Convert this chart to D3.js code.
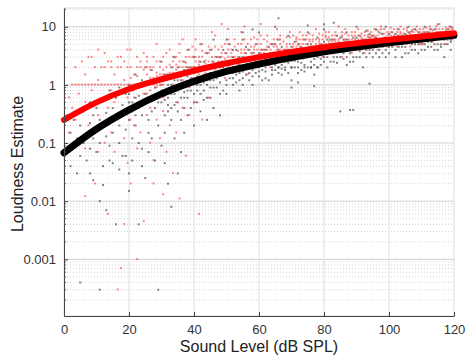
<!DOCTYPE html>
<html>
<head>
<meta charset="utf-8">
<script src="https://cdn.jsdelivr.net/npm/d3@7"></script>
<style>
  body { margin: 0; background: #fff; }
  svg { font-family: "Liberation Sans", Arial, sans-serif; }
</style>
</head>
<body>
<div id="chart"></div>
<script>
// fitted curves (dB SPL -> loudness estimate)
var curveX = [0, 10, 20, 30, 40, 50, 60, 70, 80, 90, 100, 110, 120];
var blackCurve = [0.068, 0.174, 0.372, 0.7, 1.15, 1.7, 2.28, 2.94, 3.7, 4.48, 5.31, 6.14, 7.1];
var redCurve = [0.25, 0.5, 0.85, 1.25, 1.75, 2.35, 3.0, 3.7, 4.45, 5.2, 5.95, 6.8, 7.7];

var xTicks = [0, 20, 40, 60, 80, 100, 120];
var yTicks = [0.001, 0.01, 0.1, 1, 10];
var yTickLabels = ["0.001", "0.01", "0.1", "1", "10"];

// individual estimates (black listeners)
var blackPts = [[1,0.08],[2,0.15],[2,0.04],[3,0.25],[3,0.09],[4,0.12],[4,0.03],[5,0.2],[5,0.0004],[5,0.06],[6,0.35],[6,0.1],[7,0.15],[7,0.05],[8,0.5],[8,0.22],[8,0.08],[9,0.12],[9,0.3],[9,0.023],[10,0.18],[10,0.4],[10,0.07],[11,0.25],[11,0.01],[11,0.0003],[11,0.1],[12,0.55],[12,0.2],[12,0.019],[13,0.13],[13,0.33],[13,0.007],[14,0.8],[14,0.25],[14,0.09],[15,0.4],[15,0.15],[15,0.045],[16,0.6],[16,0.28],[16,0.004],[17,0.2],[17,0.9],[17,0.1],[18,0.45],[18,0.3],[18,0.06],[19,0.7],[19,0.17],[20,0.5],[20,1],[20,0.25],[20,0.03],[21,0.35],[21,0.8],[21,0.12],[22,0.6],[22,1.5],[22,0.2],[23,0.4],[23,0.004],[23,0.9],[24,0.3],[24,1.2],[24,0.08],[25,0.7],[25,0.5],[25,2],[26,0.25],[26,1],[26,0.15],[27,0.6],[27,1.8],[28,0.4],[28,0.9],[28,0.05],[29,1.3],[29,0.0003],[29,0.7],[30,0.5],[30,2.5],[30,1],[31,0.3],[31,0.8],[32,1.5],[32,0.6],[32,0.02],[33,1],[33,2],[33,0.4],[33,0.008],[34,0.7],[34,3],[35,1.2],[35,0.5],[35,2],[36,0.9],[36,1.6],[36,0.25],[37,1],[37,2.5],[37,0.6],[38,1.4],[38,0.8],[38,4],[39,2],[39,0.4],[40,1.2],[40,3],[40,0.7],[41,1.8],[41,0.5],[42,1],[42,2.5],[42,5],[43,1.5],[43,0.8],[44,2],[44,3.5],[44,1],[45,0.6],[45,1.6],[46,2.5],[46,1.2],[46,6],[47,2],[47,0.9],[48,3],[48,1.5],[48,0.3],[49,2],[49,4],[50,1.2],[50,2.5],[50,0.7],[51,1.8],[51,5],[52,3],[52,1],[52,2],[53,1.5],[53,4],[54,2.2],[54,0.8],[55,3],[55,1.3],[55,6],[56,2],[56,4.5],[57,1.6],[57,2.8],[58,1],[58,3.5],[59,2],[59,5],[60,2.5],[60,1.4],[60,8],[61,3],[61,1.8],[62,4],[62,2.2],[63,1.2],[63,3],[64,5],[64,2.5],[65,1.8],[65,3.5],[66,2],[66,6],[67,3],[67,1.5],[68,4],[68,2.5],[69,7],[69,3],[70,2],[70,4.5],[70,1.2],[71,3.5],[71,5.5],[72,2.5],[72,4],[73,1.8],[73,3],[74,6],[74,2.2],[75,4],[75,3],[75,8],[76,2.5],[76,5],[77,3.5],[77,1.5],[78,6.5],[78,4],[79,2.8],[79,5],[80,3],[80,4.5],[80,9],[81,2],[81,6],[82,3.5],[82,5],[83,4],[83,2.5],[84,7],[84,3],[85,5],[85,4],[85,0.35],[86,2.8],[86,6],[87,4.5],[87,8],[88,3.5],[88,5.5],[89,2.5],[89,6.5],[90,4],[90,5],[90,10],[91,3],[91,7],[92,4.5],[92,2],[93,6],[93,8.5],[94,3.5],[94,5],[95,7],[95,4],[96,5.5],[96,9],[97,3],[97,6],[98,4.5],[98,7.5],[99,5],[99,10],[100,6],[100,3.5],[101,8],[101,5],[102,4],[102,6.5],[103,9],[103,5.5],[104,3],[104,7],[105,6],[105,4.5],[106,8],[106,10],[107,5],[107,7],[108,4],[108,9],[109,6],[109,3.5],[110,7.5],[110,5],[111,10],[111,6],[112,4.5],[112,8],[113,7],[113,5.5],[114,9],[114,4],[115,6.5],[115,11],[116,5],[116,8],[117,7],[117,3],[118,9],[118,6],[119,4],[119,10],
[20,0.7],[21,0.5],[22,0.3],[23,0.65],[24,0.45],[25,1],[26,0.6],[27,0.35],[28,1.2],[29,0.5],[30,0.8],[31,1.5],[31,0.55],[32,1],[32,0.35],[33,0.7],[34,1.2],[34,0.45],[35,0.8],[35,1.6],[36,0.6],[36,1.2],[37,0.4],[37,1.8],[38,1],[38,0.6],[39,1.3],[39,0.8],[40,2],[40,0.5],[41,1],[41,1.4],[42,0.7],[42,1.8],[43,1.1],[43,2.5],[44,1.5],[44,0.6],[45,1.2],[45,2.2],[46,1.6],[46,0.9],[47,1.3],[47,3],[48,2],[48,1.1],[49,1.5],[49,0.8],[50,1.8],[50,3.5],[51,1.3],[51,2.5],[52,1.6],[52,4],[53,2],[53,1.1],[54,1.6],[54,3],[55,2],[55,1],[56,2.6],[56,1.5],[57,2],[57,4],[58,2.3],[58,1.4],[59,3],[59,1.6],[60,2],[60,3.5],[61,2.4],[61,1.2],[62,3],[62,1.7],[63,2.2],[63,4.5],[64,1.8],[64,3.3],[65,2.5],[65,5],[66,3],[66,1.6],[67,2.2],[67,4.5],[68,3],[68,1.8],[69,2.4],[69,4],[70,3],[70,2.6],[71,2],[71,4],[72,3.3],[72,1.6],[73,4.5],[73,2.4],[74,3],[74,4],[75,2],[75,5],[76,3.5],[76,2],[77,4.5],[77,2.8],[78,3],[78,2],[79,4],[79,3.5],[80,2.5],[80,5.5],[81,3.5],[81,4.5],[82,2.5],[82,4],[83,3],[83,6],[84,4],[84,5],[85,3],[85,6.5],[86,4],[86,5],[87,3],[87,6],[88,4.5],[88,2.5],[89,4],[89,5],[90,3],[90,6.5],[91,4.5],[91,5.5],[92,6],[92,3.5],[93,4],[93,5],[94,6.5],[94,7.5],[95,5],[95,3],[96,4.5],[96,6.5],[97,5],[97,8],[98,3.5],[98,6],[99,6.5],[99,4],[100,5],[100,7.5],[101,4.5],[101,6.5],[102,5.5],[102,7.5],[103,4.5],[103,7],[104,6],[104,5],[105,7.5],[105,3.5],[106,5.5],[106,6.5],[107,4],[107,8.5],[108,5.5],[108,7],[109,5],[109,8],[110,6.5],[110,4],[111,5],[111,8],[112,6],[112,7],[113,4.5],[113,9],[114,6],[114,7.5],[115,5],[115,8],[116,6.5],[116,4.5],[117,8],[117,6],[118,7],[118,5],[119,6],[119,8],
[62,2],[64,2],[66,2],[68,2],[70,2],[72,2],[74,2],[76,2],[78,2],[88,0.37],[89,0.37],[94,1.05],[77,0.95],[70,0.9],[72,1.1],
[30,1.3],[31,0.65],[32,0.45],[33,1.3],[34,0.9],[35,0.35],[36,1.4],[37,0.75],[38,2],[39,1],[40,1.6],[41,0.8],[42,1.3],[43,0.55],[44,1.2],[45,0.9],[46,2],[47,1.5],[48,0.7],[49,2.5],[50,1],[51,2.2],[52,1.3],[53,2.6],[54,1.2],[55,1.7],[56,3.5],[57,1.2],[58,1.8],[59,2.5],[60,1.7],[61,4],[62,1.3],[63,2.6],[64,1.5],[65,2.2],[66,4],[67,1.9],[68,3.3],[69,1.6],[70,3.5],[71,2.6],[72,5],[73,3.5],[74,1.7],[75,3.5],[76,4],[77,2.2],[78,3.5],[79,2.2],[80,4],[81,3],[82,6],[83,3.5],[84,2.4],[85,4.5],[86,3.5],[87,2.2],[88,4],[89,3],[90,5.5],[91,3.8],[92,5],[93,3],[94,4],[95,5.5],[96,3.5],[97,4],[98,5.5],[99,3],[100,4.5],[101,6],[102,3],[103,6],[104,4.5],[105,5.5],[106,3.5],[107,6],[108,5],[109,7],[110,5.5],[111,4],[112,5.5],[113,6.5],[114,5],[115,4],[116,7],[117,5],[118,8],[119,5.5],[120,7],
[45,4],[50,6],[55,8],[58,9],[65,10],[66,14],[83,11.7],[80,11],[75,10.5],
[14,0.05],[17,0.035],[19,0.06],[21,0.05],[23,0.1],[24,0.04],[26,0.07],[27,0.12],[29,0.2],[30,0.09],[31,0.15],[33,0.25],[34,0.12],[36,0.07],[37,0.15],[38,0.3],[40,0.2],[42,0.35],[44,0.25],[46,0.4],[25,0.025],[31,0.045],[35,0.03],[20,0.015],[12,0.04],[8,0.03]];

// individual estimates (red listeners)
var redPts = [[0.5,0.3],[1,0.6],[1,0.15],[2,1],[2,0.4],[3,0.25],[3,2],[4,0.7],[4,0.1],[5,1],[5,0.35],[6,0.012],[6,0.5],[6,1.5],[7,1],[7,0.2],[8,0.8],[8,3],[9,0.02],[9,0.45],[9,1],[10,1.2],[10,0.3],[10,0.07],[11,1],[11,2],[12,0.6],[12,1],[13,0.006],[13,0.4],[13,2.5],[14,1],[14,0.8],[14,0.15],[15,1.5],[15,1],[15,0.5],[16,0.0003],[16,2],[16,0.7],[17,0.0007],[17,1],[17,3],[18,0.004],[18,1.2],[18,0.35],[19,1],[19,2],[19,0.6],[20,0.02],[20,1],[20,4],[20,0.25],[21,1.5],[21,0.8],[22,0.001],[22,2],[22,1],[23,0.5],[23,2.5],[24,0.0045],[24,1],[24,1.8],[25,0.7],[25,3],[25,2],[26,1],[26,0.4],[27,2],[27,1.3],[28,5],[28,0.9],[29,2],[29,1.5],[30,1],[30,3],[30,0.6],[31,2],[31,1.2],[32,4],[32,0.8],[33,2],[33,1.6],[34,3],[34,0.5],[35,0.011],[35,2],[35,1],[36,2.5],[36,6],[37,1.5],[37,2],[38,3],[38,0.9],[39,2],[39,4.5],[40,1.8],[40,2.5],[40,1],[41,0.006],[41,3],[41,2],[42,5],[42,1.4],[43,2],[43,3.5],[44,2.5],[44,1.2],[45,4],[45,2],[46,3],[46,7],[47,2],[47,1.6],[48,3.5],[48,2.5],[49,5],[49,1.3],[50,3],[50,2],[50,6],[51,2.5],[51,4],[52,3],[52,1.8],[53,5],[53,2.2],[54,3.5],[54,8],[55,2.5],[55,4],[56,3],[56,1.5],[57,6],[57,3.5],[58,2.8],[58,4.5],[59,2],[59,5],[60,3.5],[60,7],[61,4],[61,2.5],[62,5.5],[62,3],[63,4],[63,2],[64,6],[64,3.5],[65,4.5],[65,9],[66,3],[66,5],[67,4],[67,2.5],[68,6.5],[68,3.5],[69,5],[69,4],[70,7],[70,3],[71,4.5],[71,5.5],[72,3.5],[72,8],[73,5],[73,2.8],[74,6],[74,4],[75,4.5],[75,7.5],[76,3.5],[76,5.5],[77,6],[77,9],[78,4],[78,5],[79,7],[79,3],[80,5],[80,6.5],[81,4],[81,8],[82,5.5],[82,3.5],[83,7],[83,4.5],[84,6],[84,10],[85,5],[85,3],[86,7.5],[86,4.5],[87,6],[87,5],[88,8],[88,3.5],[89,5.5],[89,7],[90,4.5],[90,9],[91,6],[91,5],[92,7],[92,3.5],[93,5.5],[93,8.5],[94,6.5],[94,4.5],[95,9],[95,5],[96,7],[96,4],[97,6],[97,10],[98,5],[98,7.5],[99,8],[99,4.5],[100,6],[100,9.5],[101,5.5],[101,7],[102,8],[102,4.5],[103,6.5],[103,10],[104,5],[104,7.5],[105,8.5],[105,6],[106,4.5],[106,7],[107,9],[107,5.5],[108,7],[108,10],[109,6],[109,8],[110,5],[110,9],[111,7],[111,6],[112,10],[112,8],[113,5.5],[113,7.5],[114,9],[114,6.5],[115,8],[115,11],[116,6],[116,7.5],[117,9.5],[117,5],[118,8],[118,10],[119,7],[119,6],
[20,1.3],[21,0.6],[22,1.4],[23,1],[24,0.7],[25,1.5],[26,1.8],[26,0.8],[27,1],[28,1.6],[28,2.5],[29,1],[30,1.8],[30,0.8],[31,1.5],[32,2.2],[32,1.3],[33,1],[33,3],[34,1.8],[34,1.4],[35,2.5],[35,1.5],[36,1.2],[36,2],[37,3],[37,1],[38,2],[38,1.6],[39,1.3],[39,3],[40,2],[40,4],[41,1.5],[41,2.5],[42,2],[42,3],[43,1.6],[43,2.6],[44,3.5],[44,2],[45,1.5],[45,3],[46,2.2],[46,4.5],[47,3],[47,2.5],[48,2],[48,4.5],[49,2.8],[49,3.5],[50,2.5],[50,4],[51,3],[51,1.8],[52,2.5],[52,4.5],[53,3],[53,3.8],[54,2.5],[54,5],[55,3],[55,6],[56,4],[56,2.5],[57,3],[57,4.5],[58,3.5],[58,6.5],[59,3],[59,4],[60,2.5],[60,5],[61,3.5],[61,6],[62,4],[62,4.5],[63,3],[63,5],[64,4.5],[64,2.5],[65,3.5],[65,6],[66,4],[66,7],[67,3.5],[67,5.5],[68,4.5],[68,5],[69,3],[69,6.5],[70,4],[70,5],[71,6],[71,3.5],[72,4.5],[72,6],[73,4],[73,7],[74,5],[74,3],[75,6],[75,5.5],[76,4.5],[76,7],[77,5],[77,4],[78,6],[78,7.5],[79,5],[79,4.5],[80,4],[80,8],[81,5.5],[81,6.5],[82,4.5],[82,7],[83,5.5],[83,6],[84,5],[84,4],[85,6.5],[85,8],[86,5.5],[86,6],[87,7],[87,4],[88,6],[88,5],[89,6],[89,4.5],[90,5.5],[90,7],[91,7.5],[91,4],[92,6],[92,8],[93,6.5],[93,4.5],[94,5.5],[94,8],[95,6.5],[95,7],[96,5.5],[96,8.5],[97,5],[97,7.5],[98,6.5],[98,9],[99,6],[99,5.5],[100,7],[100,5],[101,6.5],[101,9],[102,6],[102,7],[103,5.5],[103,8],[104,6],[104,9],[105,7],[105,5],[106,8],[106,6],[107,7],[107,6.5],[108,6],[108,8.5],[109,7],[109,5],[110,7],[110,8],[111,6.5],[111,9.5],[112,6],[112,7],[113,8.5],[113,6.5],[114,7.5],[114,8],[115,7],[115,6],[116,9],[116,8],[117,7],[117,6.5],[118,7.5],[118,9],[119,8],[119,9.5],
[3,1],[4,1],[6,1],[8,1],[10,1],[13,1],[16,1],[18,1],[21,1],[25,1],[28,1],[12,2],[14,2],[17,2],[20,2],[23,2],[26,2],[5,2.5],[7,3],[9,2],[10,4],[12,3.5],[14,2.5],[16,3],[18,2.5],[19,4],[22,3],[24,3.5],
[25,2.5],[26,1.3],[27,3],[28,1.4],[29,2.5],[30,1.5],[31,3.5],[32,1.6],[33,2.5],[34,2.2],[35,3.5],[36,1.6],[37,2.4],[38,4],[39,1.6],[40,3],[41,2.2],[42,3.8],[43,2.3],[44,4.5],[45,2.5],[46,1.8],[47,4],[48,3],[49,2.2],[50,5],[51,3.5],[52,6],[53,2.7],[54,4],[55,3.5],[56,5],[57,2.5],[58,4],[59,6],[60,4],[61,3],[62,7],[63,3.5],[64,5],[65,4],[66,6],[67,3],[68,4],[69,8],[70,4.5],[71,6.5],[72,5],[73,6],[74,7],[75,3.5],[76,6],[77,4.5],[78,5.5],[79,6],[80,7],[81,5],[82,6],[83,8],[84,5.5],[85,7],[86,9],[87,5.5],[88,7],[89,8],[90,6],[91,6.5],[92,5],[93,7],[94,7],[95,6],[96,6],[97,9],[98,5.5],[99,7],[100,8],[101,6],[102,9],[103,7.5],[104,6.5],[105,9.5],[106,7.5],[107,8],[108,6.5],[109,9],[110,7.5],[111,8],[112,9],[113,7],[114,10],[115,9],[116,7],[117,8.5],[118,6.5],[119,9],[120,8],
[40,6],[45,8],[50,9],[55,10],[48,11],[60,11],[35,5],
[12,0.1],[15,0.07],[18,0.12],[19,0.045],[21,0.2],[22,0.08],[23,0.15],[25,0.3],[26,0.1],[27,0.05],[28,0.25],[29,0.12],[30,0.35],[31,0.07],[32,0.2],[34,0.15],[36,0.4],[37,0.06],[38,0.3],[40,0.5],[42,0.25],[44,0.6],[27,0.02],[30,0.013],[33,0.03],[8,0.15],[6,0.08]];

var w = 466, h = 360;
var plotL = 64, plotR = 454, plotT = 8, plotB = 316;

var svg = d3.select("#chart").append("svg")
    .attr("width", w)
    .attr("height", h);

var x = d3.scaleLinear().domain([0, 120]).range([plotL, plotR]);
var y = d3.scaleLog().domain([1.06e-4, 21]).range([plotB, plotT]);

// minor grid values (2..9 of each decade)
var minor = [];
[1e-4, 1e-3, 1e-2, 1e-1, 1, 10].forEach(function (d) {
    for (var k = 2; k <= 9; k++) {
        var v = d * k;
        if (v < 21 && v > 1.06e-4) minor.push(v);
    }
});

var grid = svg.append("g");
grid.selectAll("line.minor")
    .data(minor)
    .enter().append("line")
    .attr("class", "minor")
    .attr("x1", plotL).attr("x2", plotR)
    .attr("y1", d => y(d)).attr("y2", d => y(d))
    .attr("stroke", "#c8c8c8")
    .attr("stroke-width", 0.8)
    .attr("stroke-dasharray", "1,2");

grid.selectAll("line.major")
    .data(yTicks)
    .enter().append("line")
    .attr("class", "major")
    .attr("x1", plotL).attr("x2", plotR)
    .attr("y1", d => y(d)).attr("y2", d => y(d))
    .attr("stroke", "#d0d0d0");

grid.selectAll("line.vx")
    .data(xTicks.slice(1, -1))
    .enter().append("line")
    .attr("class", "vx")
    .attr("x1", d => x(d)).attr("x2", d => x(d))
    .attr("y1", plotT).attr("y2", plotB)
    .attr("stroke", "#e0e0e0");

// frame
svg.append("rect")
    .attr("x", plotL).attr("y", plotT)
    .attr("width", plotR - plotL).attr("height", plotB - plotT)
    .attr("fill", "none")
    .attr("stroke", "#dcdcdc");

// scatter
svg.append("g").selectAll("rect")
    .data(blackPts)
    .enter().append("rect")
    .attr("x", d => x(d[0]) - 1)
    .attr("y", d => y(d[1]) - 1)
    .attr("width", 2).attr("height", 2)
    .attr("fill", "#333")
    .attr("opacity", 0.6);

svg.append("g").selectAll("rect")
    .data(redPts)
    .enter().append("rect")
    .attr("x", d => x(d[0]) + 0.7)
    .attr("y", d => y(d[1]) - 1.3)
    .attr("width", 2).attr("height", 2)
    .attr("fill", "#ff2a2a")
    .attr("opacity", 0.55);

// fitted curves
var line = d3.line()
    .x((d, i) => x(curveX[i]))
    .y(d => y(d))
    .curve(d3.curveMonotoneX);

svg.append("path")
    .attr("d", line(blackCurve))
    .attr("fill", "none")
    .attr("stroke", "#000")
    .attr("stroke-width", 7)
    .attr("stroke-linecap", "round");

svg.append("path")
    .attr("d", line(redCurve))
    .attr("fill", "none")
    .attr("stroke", "#ff0000")
    .attr("stroke-width", 6)
    .attr("stroke-linecap", "round");

// axes
var xAxis = svg.append("g")
    .attr("transform", "translate(0," + plotB + ")")
    .call(d3.axisBottom(x).tickValues(xTicks).tickSizeInner(-4).tickSizeOuter(0).tickPadding(9));

var yAxis = svg.append("g")
    .attr("transform", "translate(" + plotL + ",0)")
    .call(d3.axisLeft(y).tickValues(yTicks).tickFormat((d, i) => yTickLabels[i]).tickSizeInner(-4).tickSizeOuter(0).tickPadding(8));

// minor ticks on y axis
svg.append("g").selectAll("line")
    .data(minor)
    .enter().append("line")
    .attr("x1", plotL).attr("x2", plotL + 2)
    .attr("y1", d => y(d)).attr("y2", d => y(d))
    .attr("stroke", "#555");

[xAxis, yAxis].forEach(function (g) {
    g.select(".domain").attr("stroke", "#444");
    g.selectAll(".tick line").attr("stroke", "#444");
    g.selectAll(".tick text")
        .attr("fill", "#333")
        .style("font-size", "13px")
        .style("font-family", "Liberation Sans, Arial, sans-serif");
});

svg.append("text")
    .attr("x", (plotL + plotR) / 2)
    .attr("y", 352)
    .attr("text-anchor", "middle")
    .attr("fill", "#222")
    .style("font-size", "16px")
    .text("Sound Level (dB SPL)");

svg.append("text")
    .attr("transform", "rotate(-90)")
    .attr("x", -164)
    .attr("y", 23)
    .attr("text-anchor", "middle")
    .attr("fill", "#222")
    .style("font-size", "16px")
    .text("Loudness Estimate");
</script>
</body>
</html>
